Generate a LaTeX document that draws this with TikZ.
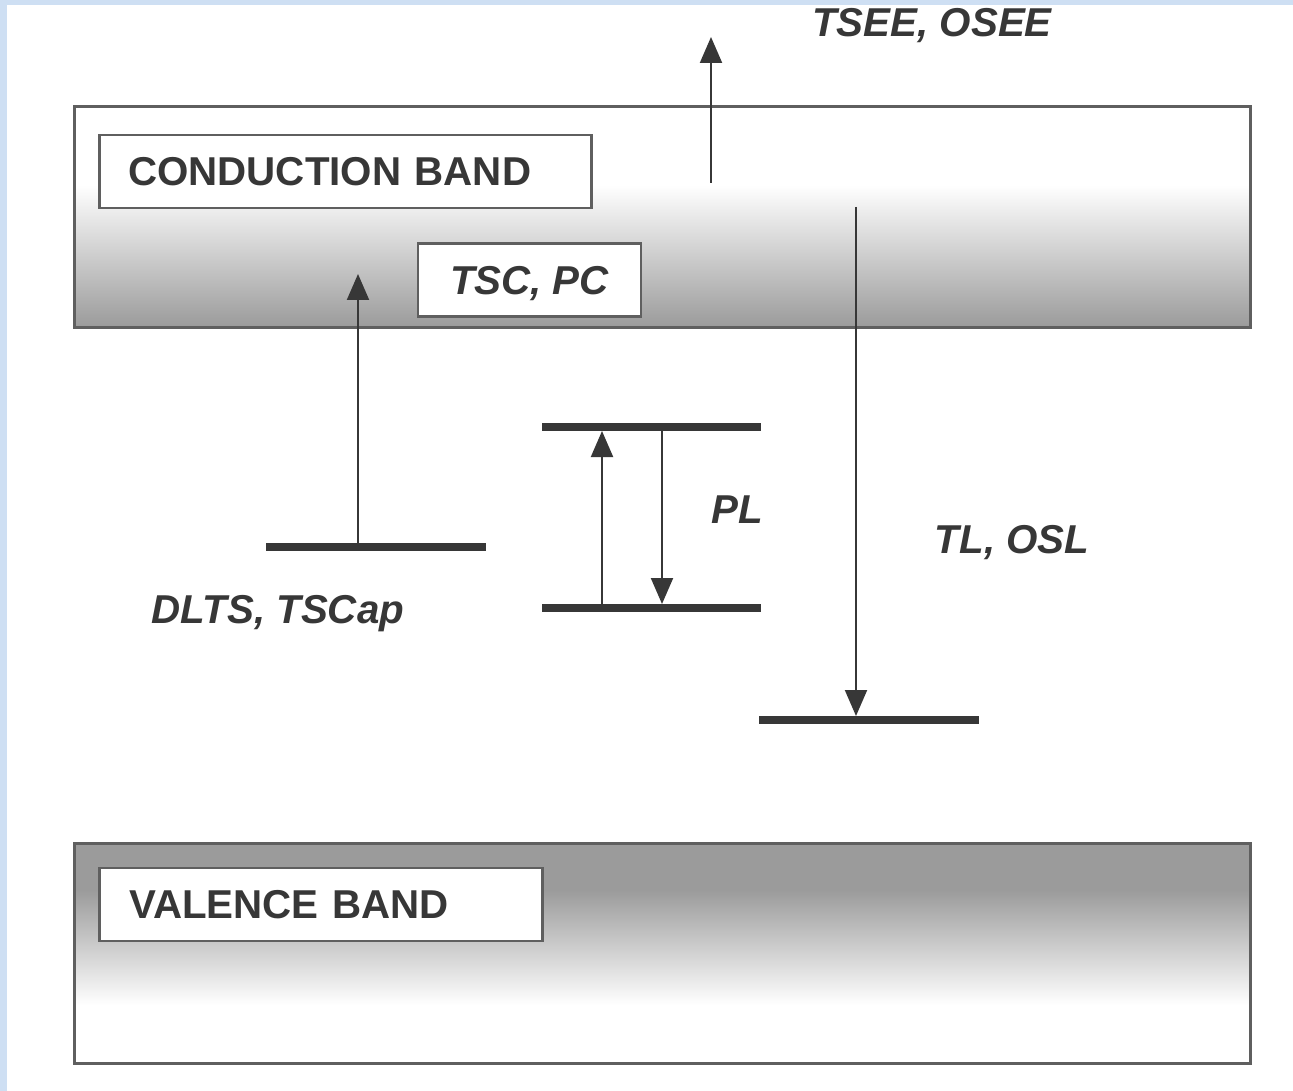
\documentclass[tikz,border=0pt]{standalone}
\usepackage{fontspec}
\setmainfont{Liberation Sans}
\usetikzlibrary{arrows.meta}
\definecolor{bgblue}{RGB}{206,223,243}
\definecolor{bandgray}{RGB}{155,155,155}
\definecolor{ink}{RGB}{55,55,55}
\definecolor{edge}{RGB}{95,95,95}
\begin{document}
\begin{tikzpicture}[x=1pt,y=-1pt,
  lbl/.style={font=\fontsize{40.3}{44}\selectfont\bfseries, text=ink},
  ilbl/.style={font=\fontsize{40.3}{44}\selectfont\bfseries\itshape, text=ink},
  bandedge/.style={draw=edge, line width=3pt, inner sep=0pt},
  labelbox/.style={draw=edge, line width=2.5pt, fill=white, inner ysep=0pt},
  lvl/.style={line width=8pt, draw=ink},
  arr/.style={draw=ink, line width=2pt, -{Triangle[length=26pt,width=22pt]}}]
\useasboundingbox (0,0) rectangle (1293,1091);
\fill[bgblue] (0,0) rectangle (1293,1091);
\fill[white] (7,5) rectangle (1293,1091);
% conduction band
\fill[white] (74,107) rectangle (1250,185);
\shade[top color=white, bottom color=bandgray] (74,185) rectangle (1250,327);
\node[bandedge, minimum width=1176pt, minimum height=220pt] (cb) at (662,217) {};
% valence band
\fill[bandgray] (74,843) rectangle (1250,890);
\shade[top color=bandgray, bottom color=white] (74,890) rectangle (1250,1005);
\node[bandedge, minimum width=1176pt, minimum height=220pt] (vb) at (662,953) {};
% label boxes
\node[labelbox, lbl, anchor=west, text width=434pt, inner xsep=29pt, minimum height=73pt, align=left] (cbl) at (98,171.5) {CONDUCTION BAND};
\node[labelbox, ilbl, minimum width=223pt, minimum height=73pt, text depth=0pt] (tsc) at (529.5,280) {TSC, PC};
\node[labelbox, lbl, anchor=west, text width=383pt, inner xsep=30pt, minimum height=73pt, align=left] (vbl) at (98,904.5) {VALENCE BAND};
% levels
\coordinate (dA) at (266,547); \coordinate (dB) at (486,547);
\coordinate (pUa) at (542,427); \coordinate (pUb) at (761,427);
\coordinate (pLa) at (542,608); \coordinate (pLb) at (761,608);
\coordinate (tA) at (759,720); \coordinate (tB) at (979,720);
\draw[lvl] (dA) -- (dB);
\draw[lvl] (pUa) -- (pUb);
\draw[lvl] (pLa) -- (pLb);
\draw[lvl] (tA) -- (tB);
% arrows
\coordinate (tsS) at (711,183); \coordinate (tsE) at (711,37);
\coordinate (dlS) at (358,543); \coordinate (dlE) at (358,274);
\coordinate (puS) at (602,604); \coordinate (puE) at (602,431);
\coordinate (pdS) at (662,431); \coordinate (pdE) at (662,604);
\coordinate (tlS) at (856,207); \coordinate (tlE) at (856,716);
\draw[arr] (tsS) -- (tsE);
\draw[arr] (dlS) -- (dlE);
\draw[arr] (puS) -- (puE);
\draw[arr] (pdS) -- (pdE);
\draw[arr] (tlS) -- (tlE);
% texts
\node[ilbl, anchor=base] (tsee) at (932,37) {TSEE, OSEE};
\node[ilbl, anchor=base] (pl) at (737,523) {PL};
\node[ilbl, anchor=base] (tl) at (1012,553) {TL, OSL};
\node[ilbl, anchor=base] (dlts) at (278,623) {DLTS, TSCap};
\end{tikzpicture}
\end{document}
